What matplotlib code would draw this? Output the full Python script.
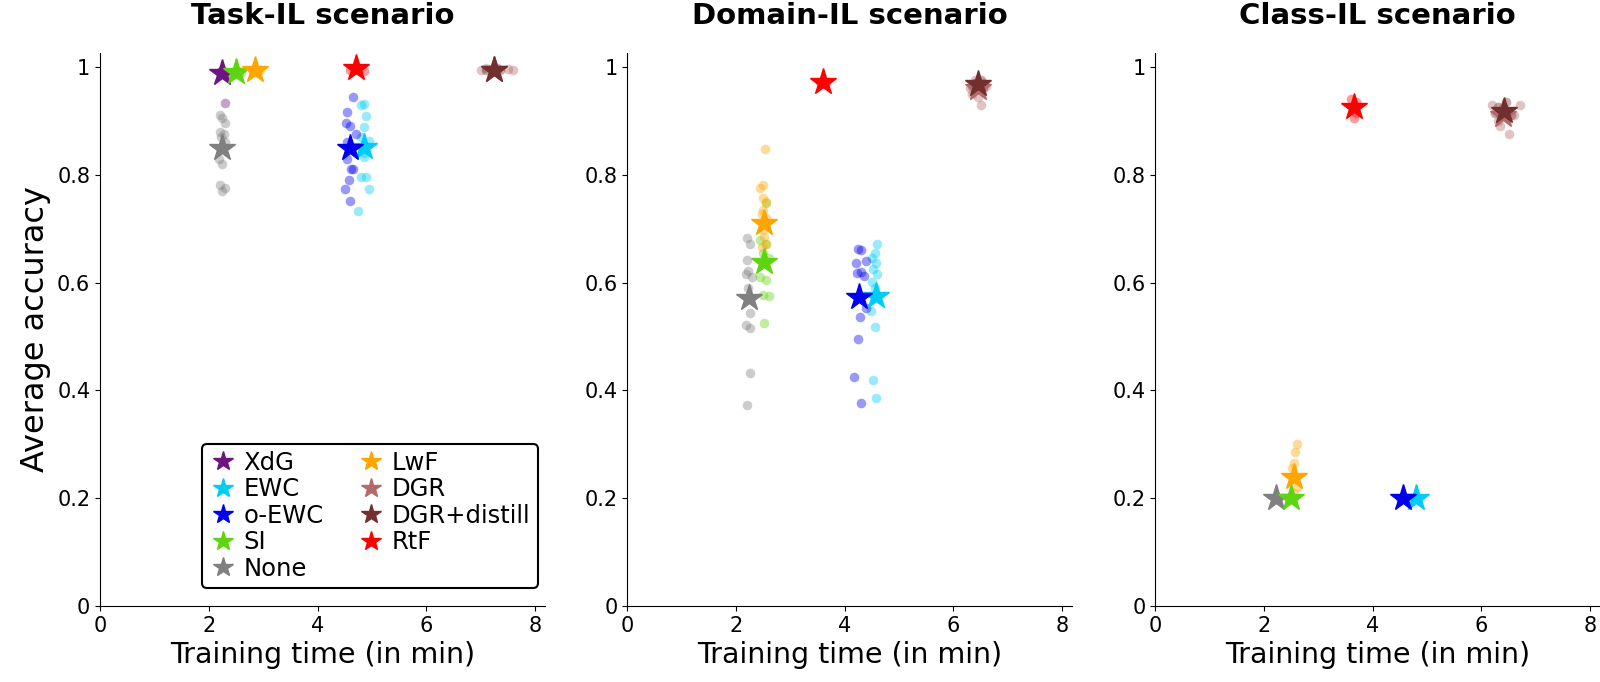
import matplotlib
matplotlib.use("Agg")
import matplotlib.pyplot as plt
from matplotlib.lines import Line2D

methods = ["XdG", "EWC", "o-EWC", "SI", "None", "LwF", "DGR", "DGR+distill", "RtF"]
colors = {"XdG": "#6e1480", "EWC": "#00ccf5", "o-EWC": "#0000ee", "SI": "#5fd412",
          "None": "#808080", "LwF": "#ffa500", "DGR": "#b56a6a", "DGR+distill": "#722f2f",
          "RtF": "#ff0000"}
draw_order = ["XdG", "EWC", "o-EWC", "None", "SI", "LwF", "DGR", "DGR+distill", "RtF"]
scenarios = ["Task-IL scenario", "Domain-IL scenario", "Class-IL scenario"]

# ---------- Task-IL ----------
task_star = {
    "XdG": (2.25, 0.988), "EWC": (4.85, 0.852), "o-EWC": (4.6, 0.85), "SI": (2.5, 0.99),
    "None": (2.25, 0.85), "LwF": (2.85, 0.995), "DGR": (7.25, 0.995),
    "DGR+distill": (7.25, 0.995), "RtF": (4.7, 0.997),
}
task_pts_x = {
    "XdG": [2.3, 2.2, 2.35, 2.25],
    "EWC": [4.85, 4.8, 4.9, 4.85, 4.8, 4.95, 4.85, 4.8, 4.9, 4.95, 4.75, 4.85],
    "o-EWC": [4.65, 4.55, 4.52, 4.6, 4.7, 4.55, 4.65, 4.62, 4.58, 4.5, 4.6, 4.55],
    "SI": [2.45, 2.55, 2.6],
    "None": [2.2, 2.25, 2.3, 2.2, 2.28, 2.22, 2.3, 2.18, 2.25, 2.2, 2.3, 2.25],
    "LwF": [2.8, 2.9, 2.95],
    "DGR": [7.0, 7.1, 7.5, 7.6, 7.3],
    "DGR+distill": [7.1, 7.2, 7.35, 7.3],
    "RtF": [4.6, 4.75, 4.85, 4.7],
}
task_pts_y = {
    "XdG": [0.933, 0.99, 0.985, 0.995],
    "EWC": [0.932, 0.93, 0.908, 0.888, 0.87, 0.863, 0.832, 0.795, 0.795, 0.773, 0.732, 0.84],
    "o-EWC": [0.945, 0.916, 0.895, 0.891, 0.876, 0.86, 0.811, 0.811, 0.791, 0.773, 0.752, 0.83],
    "SI": [0.99, 0.985, 0.99],
    "None": [0.91, 0.905, 0.895, 0.88, 0.875, 0.87, 0.86, 0.83, 0.82, 0.78, 0.775, 0.77],
    "LwF": [0.995, 0.99, 0.995],
    "DGR": [0.995, 0.997, 0.996, 0.995, 0.994],
    "DGR+distill": [0.995, 0.996, 0.995, 0.997],
    "RtF": [0.995, 0.995, 0.993, 0.998],
}

# ---------- Domain-IL ----------
domain_star = {
    "EWC": (4.57, 0.575), "o-EWC": (4.27, 0.574), "SI": (2.51, 0.638), "None": (2.24, 0.571),
    "LwF": (2.51, 0.71), "DGR": (6.45, 0.96), "DGR+distill": (6.45, 0.968), "RtF": (3.6, 0.972),
}
domain_pts_x = {
    "EWC": [4.6, 4.55, 4.5, 4.58, 4.52, 4.6, 4.5, 4.55, 4.48, 4.55, 4.52, 4.58],
    "o-EWC": [4.25, 4.3, 4.4, 4.2, 4.3, 4.22, 4.35, 4.4, 4.28, 4.25, 4.18, 4.3],
    "SI": [2.55, 2.45, 2.55, 2.5, 2.6, 2.45, 2.55, 2.5, 2.6, 2.52],
    "None": [2.2, 2.25, 2.2, 2.22, 2.18, 2.3, 2.22, 2.25, 2.18, 2.25, 2.25, 2.2],
    "LwF": [2.54, 2.5, 2.45, 2.5, 2.55, 2.5, 2.47, 2.55, 2.5, 2.52, 2.55, 2.48],
    "DGR": [6.3, 6.4, 6.5, 6.6, 6.45, 6.35, 6.55],
    "DGR+distill": [6.4, 6.5, 6.55, 6.35],
    "RtF": [3.55, 3.65],
}
domain_pts_y = {
    "EWC": [0.671, 0.654, 0.645, 0.636, 0.625, 0.615, 0.601, 0.59, 0.548, 0.518, 0.419, 0.385],
    "o-EWC": [0.663, 0.66, 0.64, 0.636, 0.62, 0.617, 0.612, 0.552, 0.536, 0.495, 0.425, 0.376],
    "SI": [0.747, 0.678, 0.672, 0.654, 0.645, 0.61, 0.605, 0.576, 0.575, 0.524],
    "None": [0.682, 0.672, 0.641, 0.622, 0.615, 0.61, 0.589, 0.543, 0.521, 0.515, 0.432, 0.372],
    "LwF": [0.847, 0.78, 0.775, 0.756, 0.75, 0.734, 0.728, 0.72, 0.697, 0.685, 0.672, 0.665],
    "DGR": [0.96, 0.975, 0.93, 0.965, 0.945, 0.95, 0.97],
    "DGR+distill": [0.97, 0.975, 0.96, 0.965],
    "RtF": [0.972, 0.97],
}

# ---------- Class-IL ----------
class_star = {
    "EWC": (4.8, 0.2), "o-EWC": (4.55, 0.2), "SI": (2.5, 0.2), "None": (2.22, 0.2),
    "LwF": (2.55, 0.24), "DGR": (6.4, 0.91), "DGR+distill": (6.42, 0.918), "RtF": (3.65, 0.925),
}
class_pts_x = {
    "EWC": [4.75, 4.85], "o-EWC": [4.5, 4.6], "SI": [2.45, 2.55], "None": [2.2, 2.25],
    "LwF": [2.6, 2.58, 2.55, 2.52, 2.6, 2.55],
    "DGR": [6.2, 6.3, 6.5, 6.6, 6.7, 6.4, 6.35],
    "DGR+distill": [6.3, 6.45, 6.55, 6.25],
    "RtF": [3.6, 3.7, 3.65, 3.7],
}
class_pts_y = {
    "EWC": [0.2, 0.2], "o-EWC": [0.2, 0.2], "SI": [0.2, 0.2], "None": [0.2, 0.2],
    "LwF": [0.3, 0.285, 0.265, 0.255, 0.22, 0.21],
    "DGR": [0.93, 0.9, 0.875, 0.91, 0.93, 0.925, 0.89],
    "DGR+distill": [0.925, 0.935, 0.91, 0.915],
    "RtF": [0.94, 0.935, 0.905, 0.915],
}

panels = [(task_star, task_pts_x, task_pts_y),
          (domain_star, domain_pts_x, domain_pts_y),
          (class_star, class_pts_x, class_pts_y)]

fig = plt.figure(figsize=(16, 6.82), dpi=100)
lefts = [0.0625, 0.392, 0.722]
yticks = [0, 0.2, 0.4, 0.6, 0.8, 1]
yticklabels = ["0", "0.2", "0.4", "0.6", "0.8", "1"]

for i, (stars, px, py) in enumerate(panels):
    ax = fig.add_axes([lefts[i], 0.1115, 0.278, 0.811])
    for m in draw_order:
        if m in px:
            ax.scatter(px[m], py[m], s=48, color=colors[m], alpha=0.4, linewidths=0, zorder=2)
    for m in draw_order:
        if m in stars:
            ax.plot([stars[m][0]], [stars[m][1]], marker="*", markersize=20,
                    color=colors[m], linestyle="none", zorder=3)
    ax.set_xlim(0, 8.18)
    ax.set_ylim(0, 1.026)
    ax.set_xticks([0, 2, 4, 6, 8])
    ax.set_yticks(yticks)
    ax.set_yticklabels(yticklabels)
    ax.tick_params(labelsize=15)
    ax.spines["top"].set_visible(False)
    ax.spines["right"].set_visible(False)
    ax.set_title(scenarios[i], fontsize=21, fontweight="bold", pad=21)
    ax.set_xlabel("Training time (in min)", fontsize=20.5)
    if i == 0:
        ax.set_ylabel("Average accuracy", fontsize=23)
        handles = [Line2D([], [], marker="*", markersize=15, color=colors[m], linestyle="none")
                   for m in methods]
        leg = ax.legend(handles, methods, loc="lower right", bbox_to_anchor=(0.984, 0.0325),
                        borderaxespad=0, ncol=2, fontsize=17.5, frameon=True, edgecolor="black",
                        handletextpad=0.3, columnspacing=1.4, labelspacing=0.1,
                        handlelength=1.1, fancybox=True, borderpad=0.3)
        leg.get_frame().set_linewidth(1.5)
        leg.get_frame().set_alpha(1)

fig.savefig("out.png", dpi=100)
